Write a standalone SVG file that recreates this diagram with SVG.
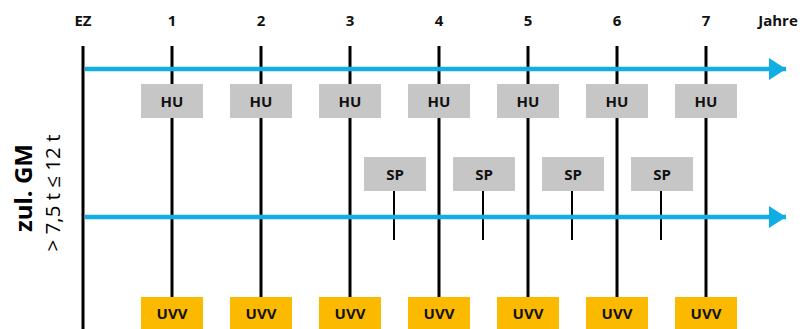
<svg xmlns="http://www.w3.org/2000/svg" width="803" height="329" viewBox="0 0 803 329">
<defs>
<style>
.t{font-family:"Open Sans","Noto Sans",sans-serif;font-weight:bold;font-size:15px;fill:#111;text-anchor:middle}
.yr{stroke:#000;stroke-width:3}
.sp{stroke:#000;stroke-width:2}
.blue{stroke:#11AEE5;stroke-width:4.5}
.hu{fill:#C6C6C6}
.uvv{fill:#FBB900}
</style>
<marker id="ah" markerUnits="userSpaceOnUse" markerWidth="18" markerHeight="22" refX="17" refY="11" orient="auto">
<path d="M0,0 L17,11 L0,22 Z" fill="#11AEE5"/>
</marker>
</defs>
<rect width="803" height="329" fill="#fff"/>
<g id="headers">
<text class="t" x="83" y="26">EZ</text>
<text class="t" x="172" y="26">1</text>
<text class="t" x="261" y="26">2</text>
<text class="t" x="350" y="26">3</text>
<text class="t" x="439" y="26">4</text>
<text class="t" x="528" y="26">5</text>
<text class="t" x="617" y="26">6</text>
<text class="t" x="706" y="26">7</text>
<text class="t" x="778" y="26">Jahre</text>
</g>
<g id="label">
<text transform="translate(32,188) rotate(-90)" style="font-family:'Open Sans','Noto Sans',sans-serif;font-weight:bold;font-size:24px;fill:#000;text-anchor:middle">zul. GM</text>
<text transform="translate(60,193) rotate(-90)" style="font-family:'Open Sans','Noto Sans',sans-serif;font-size:20.5px;fill:#000;text-anchor:middle">&gt; 7,5 t ≤ 12 t</text>
</g>
<g id="connectors">
<line class="yr" x1="83" y1="46" x2="83" y2="329"/>
<line class="yr" x1="172" y1="46" x2="172" y2="297"/>
<line class="yr" x1="261" y1="46" x2="261" y2="297"/>
<line class="yr" x1="350" y1="46" x2="350" y2="297"/>
<line class="yr" x1="439" y1="46" x2="439" y2="297"/>
<line class="yr" x1="528" y1="46" x2="528" y2="297"/>
<line class="yr" x1="617" y1="46" x2="617" y2="297"/>
<line class="yr" x1="706" y1="46" x2="706" y2="297"/>
<line class="sp" x1="394" y1="190" x2="394" y2="240"/>
<line class="sp" x1="483" y1="190" x2="483" y2="240"/>
<line class="sp" x1="572" y1="190" x2="572" y2="240"/>
<line class="sp" x1="661" y1="190" x2="661" y2="240"/>
<line class="blue" x1="85" y1="69" x2="786" y2="69" marker-end="url(#ah)"/>
<line class="blue" x1="85" y1="217" x2="786" y2="217" marker-end="url(#ah)"/>
</g>
<g id="hu1"><rect class="hu" x="141" y="84" width="62" height="34"/><text class="t" x="172" y="107">HU</text></g>
<g id="hu2"><rect class="hu" x="230" y="84" width="62" height="34"/><text class="t" x="261" y="107">HU</text></g>
<g id="hu3"><rect class="hu" x="319" y="84" width="62" height="34"/><text class="t" x="350" y="107">HU</text></g>
<g id="hu4"><rect class="hu" x="408" y="84" width="62" height="34"/><text class="t" x="439" y="107">HU</text></g>
<g id="hu5"><rect class="hu" x="497" y="84" width="62" height="34"/><text class="t" x="528" y="107">HU</text></g>
<g id="hu6"><rect class="hu" x="586" y="84" width="62" height="34"/><text class="t" x="617" y="107">HU</text></g>
<g id="hu7"><rect class="hu" x="675" y="84" width="62" height="34"/><text class="t" x="706" y="107">HU</text></g>
<g id="sp1"><rect class="hu" x="364" y="157" width="62" height="34"/><text class="t" x="395" y="180">SP</text></g>
<g id="sp2"><rect class="hu" x="453" y="157" width="62" height="34"/><text class="t" x="484" y="180">SP</text></g>
<g id="sp3"><rect class="hu" x="542" y="157" width="62" height="34"/><text class="t" x="573" y="180">SP</text></g>
<g id="sp4"><rect class="hu" x="631" y="157" width="62" height="34"/><text class="t" x="662" y="180">SP</text></g>
<g id="uvv1"><rect class="uvv" x="141" y="297" width="62" height="32"/><text class="t" x="172" y="319">UVV</text></g>
<g id="uvv2"><rect class="uvv" x="230" y="297" width="62" height="32"/><text class="t" x="261" y="319">UVV</text></g>
<g id="uvv3"><rect class="uvv" x="319" y="297" width="62" height="32"/><text class="t" x="350" y="319">UVV</text></g>
<g id="uvv4"><rect class="uvv" x="408" y="297" width="62" height="32"/><text class="t" x="439" y="319">UVV</text></g>
<g id="uvv5"><rect class="uvv" x="497" y="297" width="62" height="32"/><text class="t" x="528" y="319">UVV</text></g>
<g id="uvv6"><rect class="uvv" x="586" y="297" width="62" height="32"/><text class="t" x="617" y="319">UVV</text></g>
<g id="uvv7"><rect class="uvv" x="675" y="297" width="62" height="32"/><text class="t" x="706" y="319">UVV</text></g>
</svg>
